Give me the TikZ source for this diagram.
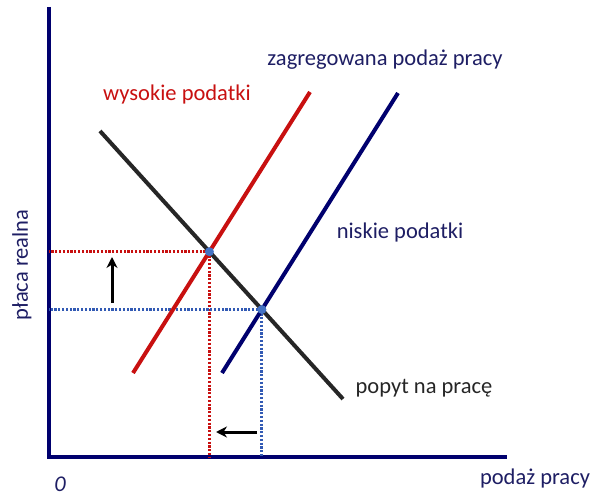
\documentclass[tikz,border=0pt]{standalone}
\usepackage{fontspec}
\setmainfont{Carlito}
\usetikzlibrary{arrows.meta}
\definecolor{granat}{RGB}{0,0,110}
\definecolor{czerwony}{RGB}{200,16,16}
\definecolor{punkt}{RGB}{68,114,196}
\definecolor{tekst}{RGB}{30,30,100}
\definecolor{kropkiniebieskie}{RGB}{50,90,180}
\tikzset{
  krzywa/.style={line width=4pt},
  kropki/.style={line width=3pt, dash pattern=on 2.2pt off 1.6pt},
  etykieta/.style={font=\fontsize{22.5}{27}\selectfont, inner sep=0pt},
  strzalka/.style={line width=3pt, ->},
}
\begin{document}
\begin{tikzpicture}[x=1pt, y=-1pt, >={Stealth[length=11pt,width=11pt]}]
        \useasboundingbox (0,0) rectangle (592,497);

        % --- Osie ---
        \coordinate (O) at (49,457);
        \coordinate (Ygora) at (49,7);
        \coordinate (Xkoniec) at (507,457);
        \draw[granat, line width=4.5pt] (Ygora) -- (O) -- (Xkoniec);

        % --- Krzywe ---
        \coordinate (W1) at (133,373); % wysokie podatki
        \coordinate (W2) at (310,92);
        \coordinate (N1) at (222,373); % niskie podatki
        \coordinate (N2) at (398,93);
        \coordinate (P1) at (100,131); % popyt
        \coordinate (P2) at (343,399);

        % Punkty rownowagi
        \coordinate (E1) at (intersection of W1--W2 and P1--P2);
        \coordinate (E2) at (intersection of N1--N2 and P1--P2);

        % --- Linie kropkowane ---
        \draw[kropki, czerwony] (E1) -- (E1 -| O);
        \draw[kropki, czerwony] (E1) -- (E1 |- O);
        \draw[kropki, kropkiniebieskie] (E2) -- (E2 -| O);
        \draw[kropki, kropkiniebieskie] (E2) -- (E2 |- O);

        \draw[krzywa, czerwony] (W1) -- (W2);
        \draw[krzywa, granat] (N1) -- (N2);
        \draw[krzywa, black!85] (P1) -- (P2);

        \fill[punkt] (E1) circle (4.5pt);
        \fill[punkt] (E2) circle (4.5pt);

        % --- Strzalki ---
        \coordinate (S1) at (112,303);
        \coordinate (S2) at (112,257);
        \draw[strzalka] (S1) -- (S2);
        \coordinate (S3) at (257,432);
        \coordinate (S4) at (216,432);
        \draw[strzalka] (S3) -- (S4);

        % --- Etykiety ---
        \node[etykieta, czerwony] (wysokie) at (177,95) {wysokie podatki};
        \node[etykieta, tekst] (zagregowana) at (385,60) {zagregowana podaż pracy};
        \node[etykieta, tekst] (niskie) at (400,233) {niskie podatki};
        \node[etykieta, black!85] (popyt) at (424,388) {popyt na pracę};
        \node[etykieta, tekst] (podaz) at (535,478) {podaż pracy};
        \node[etykieta, tekst, font=\fontsize{22.5}{27}\selectfont\itshape] (zero) at (60,484) {0};
        \node[etykieta, tekst, rotate=90] (placa) at (22,265) {płaca realna};
\end{tikzpicture}
\end{document}
